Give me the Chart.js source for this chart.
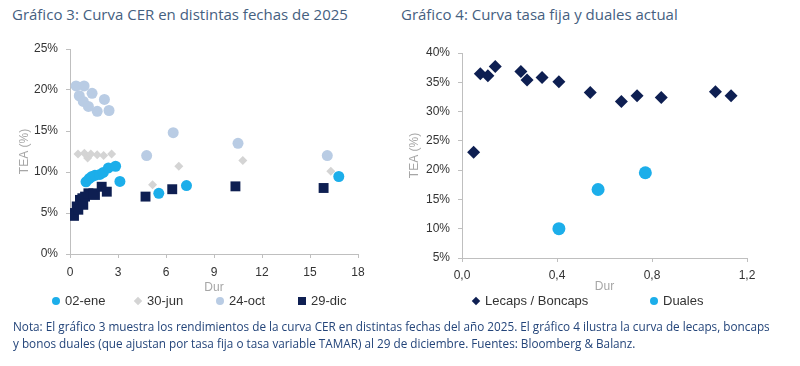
<!DOCTYPE html>
<html lang="es">
  <head>
    <meta charset="UTF-8" />
    <title>Curva CER y tasa fija</title>
    <style>
      body {
        margin: 0;
        width: 800px;
        height: 366px;
        background: #ffffff;
        position: relative;
        overflow: hidden;
        font-family: "Liberation Sans", Arial, sans-serif;
      }
      .title {
        position: absolute;
        top: 4px;
        font-family: "Open Sans", sans-serif;
        font-size: 15px;
        line-height: 20px;
        color: #45607f;
        white-space: nowrap;
      }
      canvas {
        position: absolute;
      }
      .legend {
        position: absolute;
        top: 292px;
        font-size: 13px;
        color: #333;
        white-space: nowrap;
      }
      .legend .item {
        display: inline-block;
        vertical-align: middle;
      }
      .legend .mk {
        display: inline-block;
        width: 8px;
        height: 8px;
        margin-right: 5px;
        vertical-align: middle;
        position: relative;
        top: -1px;
      }
      .note {
        position: absolute;
        left: 13px;
        top: 318px;
        font-family: "Open Sans", sans-serif;
        font-size: 13px;
        line-height: 16.5px;
        color: #24457a;
        white-space: nowrap;
      }
      .note span {
        display: inline-block;
        transform-origin: left center;
      }
    </style>
    <script src="https://cdn.jsdelivr.net/npm/chart.js"></script>
  </head>
  <body>
    <div class="title" style="left: 12px">Gráfico 3: Curva CER en distintas fechas de 2025</div>
    <div class="title" style="left: 401px">Gráfico 4: Curva tasa fija y duales actual</div>

    <canvas id="cer" width="372" height="255" style="left: 0; top: 40px"></canvas>
    <canvas id="fija" width="365" height="255" style="left: 400px; top: 40px"></canvas>

    <div class="legend" id="legCer" style="left: 52px"></div>
    <div class="legend" id="legFija" style="left: 472px"></div>

    <div class="note">
      <span id="n1">Nota: El gráfico 3 muestra los rendimientos de la curva CER en distintas fechas del año 2025. El gráfico 4 ilustra la curva de lecaps, boncaps</span><br />
      <span id="n2">y bonos duales (que ajustan por tasa fija o tasa variable TAMAR) al 29 de diciembre. Fuentes: Bloomberg &amp; Balanz.</span>
    </div>

    <script>
      // Gráfico 3 - curva CER (duration en años, TEA en %)
      const cerSeries = ["02-ene", "30-jun", "24-oct", "29-dic"];

      const ene02Dur = [1.0, 1.2, 1.37, 1.56, 1.87, 2.08, 2.4, 2.85, 3.12, 5.55, 7.28, 16.8];
      const ene02Tea = [8.8, 9.2, 9.45, 9.6, 9.7, 9.95, 10.5, 10.7, 8.85, 7.4, 8.35, 9.45];

      const jun30Dur = [0.5, 0.9, 1.1, 1.3, 1.7, 2.1, 2.6, 5.16, 6.8, 10.8, 16.3];
      const jun30Tea = [12.2, 12.3, 11.7, 12.2, 12.1, 12.0, 12.2, 8.45, 10.7, 11.4, 10.1];

      const oct24Dur = [0.38, 0.88, 0.58, 1.38, 0.83, 1.15, 1.7, 2.15, 2.44, 4.79, 6.45, 10.5, 16.08];
      const oct24Tea = [20.5, 20.5, 19.3, 19.6, 18.6, 18.0, 17.4, 18.85, 17.5, 12.0, 14.8, 13.5, 12.0];

      const dic29Dur = [0.1, 0.25, 0.42, 0.52, 0.62, 0.77, 0.83, 0.94, 1.15, 1.46, 1.56, 1.98, 2.3, 4.72, 6.39, 10.34, 15.85];
      const dic29Tea = [5.0, 4.65, 5.8, 5.4, 6.6, 6.8, 6.0, 7.0, 7.4, 7.4, 7.2, 8.2, 7.6, 7.0, 7.9, 8.25, 8.05];

      const cerXTicks = [0, 3, 6, 9, 12, 15, 18];
      const cerYTicks = [0, 5, 10, 15, 20, 25];

      // Gráfico 4 - tasa fija y duales
      const fijaSeries = ["Lecaps / Boncaps", "Duales"];

      const lecDur = [0.049, 0.077, 0.109, 0.14, 0.248, 0.274, 0.337, 0.408, 0.54, 0.671, 0.737, 0.839, 1.067, 1.133];
      const lecTea = [23.05, 36.45, 36.1, 37.7, 36.85, 35.4, 35.8, 35.1, 33.25, 31.7, 32.7, 32.4, 33.4, 32.7];

      const dualDur = [0.408, 0.573, 0.772];
      const dualTea = [10.0, 16.7, 19.55];

      const fijaXTicks = [0, 0.4, 0.8, 1.2];
      const fijaYTicks = [5, 10, 15, 20, 25, 30, 35, 40];

      const cyan = "#1caeea";
      const grey = "#d4d4d4";
      const pale = "#b9cce4";
      const navy = "#0e1f52";

      function pts(xs, ys) {
        return xs.map((x, i) => ({ x: x, y: ys[i] }));
      }

      function axis(ticks, extra) {
        return Object.assign(
          {
            type: "linear",
            min: ticks[0],
            max: ticks[ticks.length - 1],
            afterBuildTicks: (s) => {
              s.ticks = ticks.map((v) => ({ value: v }));
            },
            border: { color: "#bfbfbf", width: 1 },
            grid: {
              drawOnChartArea: false,
              drawTicks: true,
              tickLength: 4,
              color: "#bfbfbf",
            },
          },
          extra
        );
      }

      function makeChart(id, datasets, opts) {
        return new Chart(document.getElementById(id), {
          type: "scatter",
          data: { datasets: datasets },
          options: {
            responsive: false,
            animation: false,
            layout: { padding: opts.padding },
            plugins: { legend: { display: false }, tooltip: { enabled: false } },
            scales: { x: opts.x, y: opts.y },
          },
        });
      }

      function ds(label, data, color, style, r, order) {
        return {
          label: label,
          data: data,
          pointStyle: style,
          pointRadius: r,
          pointBackgroundColor: color,
          pointBorderColor: color,
          pointBorderWidth: 0,
          order: order,
        };
      }

      // ancho fijo del eje y sin el margen extra arriba/abajo
      function fixY(w) {
        return (s) => {
          s.width = w;
          s.paddingTop = 0;
          s.paddingBottom = 0;
        };
      }

      const tickFont = { family: "Liberation Sans", size: 12 };
      const titleFont = { family: "Liberation Sans", size: 12 };
      const pct = (v) => v + "%";
      const comma = (v) => v.toFixed(1).replace(".", ",");

      makeChart(
        "cer",
        [
          ds(cerSeries[0], pts(ene02Dur, ene02Tea), cyan, "circle", 5.5, 1),
          ds(cerSeries[1], pts(jun30Dur, jun30Tea), grey, "rectRot", 4.5, 3),
          ds(cerSeries[2], pts(oct24Dur, oct24Tea), pale, "circle", 5.5, 2),
          ds(cerSeries[3], pts(dic29Dur, dic29Tea), navy, "rect", 7, 0),
        ],
        {
          padding: { top: 9, right: 14, left: 0, bottom: 0 },
          x: axis(cerXTicks, {
            afterFit: (s) => { s.height = 41; },
            ticks: { color: "#333333", font: tickFont, padding: 7, callback: (v) => v },
            title: { display: true, text: "Dur", color: "#a6a6a6", font: titleFont, padding: { top: 0, bottom: 0 } },
          }),
          y: axis(cerYTicks, {
            afterFit: fixY(70),
            ticks: { color: "#333333", font: tickFont, padding: 8, callback: pct },
            title: { display: true, text: "TEA (%)", color: "#a6a6a6", font: titleFont, padding: { top: 17, bottom: 0 } },
          }),
        }
      );

      makeChart(
        "fija",
        [
          ds(fijaSeries[0], pts(lecDur, lecTea), navy, "rectRot", 6.5, 0),
          ds(fijaSeries[1], pts(dualDur, dualTea), cyan, "circle", 6.5, 1),
        ],
        {
          padding: { top: 13, right: 18, left: 0, bottom: 0 },
          x: axis(fijaXTicks, {
            afterFit: (s) => { s.height = 37; },
            ticks: { color: "#333333", font: tickFont, padding: 6, callback: comma },
            title: { display: true, text: "Dur", color: "#a6a6a6", font: titleFont, padding: { top: 0, bottom: 1 } },
          }),
          y: axis(fijaYTicks, {
            afterFit: fixY(62),
            ticks: { color: "#333333", font: tickFont, padding: 8, callback: pct },
            title: { display: true, text: "TEA (%)", color: "#a6a6a6", font: titleFont, padding: { top: 7, bottom: 0 } },
          }),
        }
      );

      // leyendas
      function legend(id, names, marks, itemWidth) {
        const box = document.getElementById(id);
        names.forEach((n, i) => {
          const it = document.createElement("span");
          it.className = "item";
          it.style.width = itemWidth + "px";
          const mk = document.createElement("span");
          mk.className = "mk";
          mk.style.background = marks[i].color;
          if (marks[i].shape === "circle") mk.style.borderRadius = "50%";
          if (marks[i].shape === "diamond") {
            mk.style.width = "6px";
            mk.style.height = "6px";
            mk.style.transform = "rotate(45deg)";
            mk.style.marginLeft = "1px";
            mk.style.marginRight = "6px";
          }
          it.appendChild(mk);
          it.appendChild(document.createTextNode(n));
          box.appendChild(it);
        });
      }

      legend("legCer", cerSeries, [
        { color: cyan, shape: "circle" },
        { color: grey, shape: "diamond" },
        { color: pale, shape: "circle" },
        { color: navy, shape: "square" },
      ], 82);
      legend("legFija", fijaSeries, [
        { color: navy, shape: "diamond" },
        { color: cyan, shape: "circle" },
      ], 178);

      // nota en fuente estrecha
      const n1 = document.getElementById("n1");
      const n2 = document.getElementById("n2");
      const k = 757 / n1.offsetWidth;
      n1.style.transform = "scaleX(" + k + ")";
      n2.style.transform = "scaleX(" + k + ")";
    </script>
  </body>
</html>
